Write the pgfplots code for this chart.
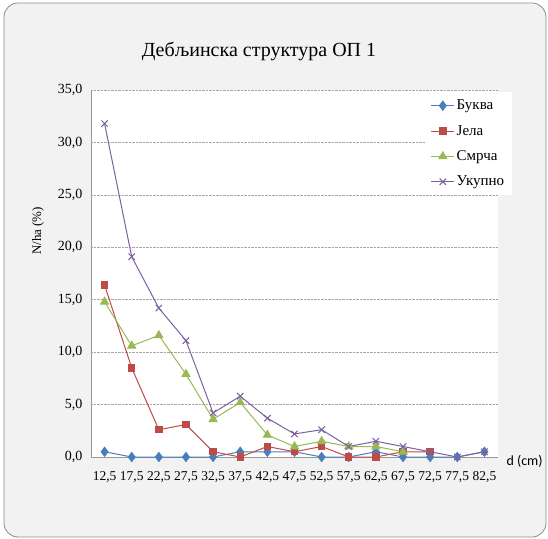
\documentclass[border=0pt]{standalone}
\usepackage{fontspec}
\setmainfont{Liberation Serif}
\newfontfamily\serifT{Liberation Serif}
\newfontfamily\calibri{Carlito}
\usepackage{pgfplots}
\pgfplotsset{compat=1.18}

\definecolor{cbuk}{HTML}{4A7EBB}
\definecolor{cjel}{HTML}{BE4B48}
\definecolor{csmr}{HTML}{98B954}
\definecolor{cuk}{HTML}{7D60A0}
\definecolor{bgc}{HTML}{F2F2F2}

\begin{document}
\begin{tikzpicture}[x=1pt,y=1pt,font=\serifT]
% chart area
\fill[white] (0,0) rectangle (548,538);
\draw[black!45, fill=bgc, rounded corners=14pt, line width=0.8pt] (4,1) rectangle (546,535);

\node[anchor=base, font=\serifT\fontsize{20}{20}\selectfont] at (259,481) {Дебљинска структура ОП 1};
\node[anchor=west, font=\calibri\fontsize{14}{14}\selectfont] at (503,77) {d (cm)};

\begin{axis}[
    at={(91pt,81pt)}, anchor=south west,
    scale only axis, width=407pt, height=367pt,
    xmin=-0.5, xmax=14.5, ymin=0, ymax=35,
    xtick={0,...,14},
    xticklabels={{12,5},{17,5},{22,5},{27,5},{32,5},{37,5},{42,5},{47,5},{52,5},{57,5},{62,5},{67,5},{72,5},{77,5},{82,5}},
    ytick={0,5,...,35},
    yticklabel={\pgfmathprintnumber[fixed,fixed zerofill,precision=1,use comma]{\tick}},
    /pgf/number format/assume math mode=true,
    major tick length=0pt,
    axis x line*=bottom, axis y line*=left,
    axis line style={-, black!40, line width=1pt},
    axis background/.style={fill=white},
    ymajorgrids, grid style={densely dotted, black!35, line width=0.6pt},
    yticklabel style={font=\serifT\fontsize{14}{14}\selectfont, xshift=-5pt},
    xticklabel style={font=\serifT\fontsize{13.5}{13.5}\selectfont, yshift=-11pt},
    ylabel={N/ha (\%)},
    ylabel style={at={(axis description cs:-0.13,0.616)}, anchor=center, font=\serifT\fontsize{13}{13}\selectfont},
    legend style={at={(axis description cs:0.82,0.995)}, anchor=north west,
        fill=white, draw=none, font=\serifT\fontsize{15}{15}\selectfont,
        row sep=10pt, inner sep=6pt},
    legend cell align=left,
    legend image code/.code={\draw[mark repeat=2,mark phase=2] plot coordinates {(0cm,0cm)(0.4cm,0cm)(0.8cm,0cm)};},
]
\addplot[cbuk, line width=1pt, mark=diamond*, mark size=4.5pt, mark options={solid}] coordinates {
 (0,0.5) (1,0) (2,0) (3,0) (4,0) (5,0.5) (6,0.5) (7,0.5) (8,0) (9,0) (10,0.5) (11,0) (12,0) (13,0) (14,0.5)};
\addlegendentry{Буква}
\addplot[cjel, line width=1pt, mark=square*, mark size=3.2pt] coordinates {
 (0,16.4) (1,8.5) (2,2.6) (3,3.1) (4,0.5) (5,0) (6,1.0) (7,0.5) (8,1.0) (9,0) (10,0) (11,0.5) (12,0.5)};
\addlegendentry{Јела}
\addplot[csmr, line width=1pt, mark=triangle*, mark size=4.5pt] coordinates {
 (0,14.8) (1,10.6) (2,11.6) (3,7.9) (4,3.6) (5,5.2) (6,2.1) (7,1.0) (8,1.5) (9,1.0) (10,1.0) (11,0.5)};
\addlegendentry{Смрча}
\addplot[cuk, line width=1pt, mark=x, mark size=4.5pt] coordinates {
 (0,31.8) (1,19.1) (2,14.2) (3,11.1) (4,4.2) (5,5.8) (6,3.7) (7,2.2) (8,2.6) (9,1.0) (10,1.5) (11,1.0) (12,0.5) (13,0) (14,0.5)};
\addlegendentry{Укупно}
\end{axis}
\end{tikzpicture}
\end{document}
